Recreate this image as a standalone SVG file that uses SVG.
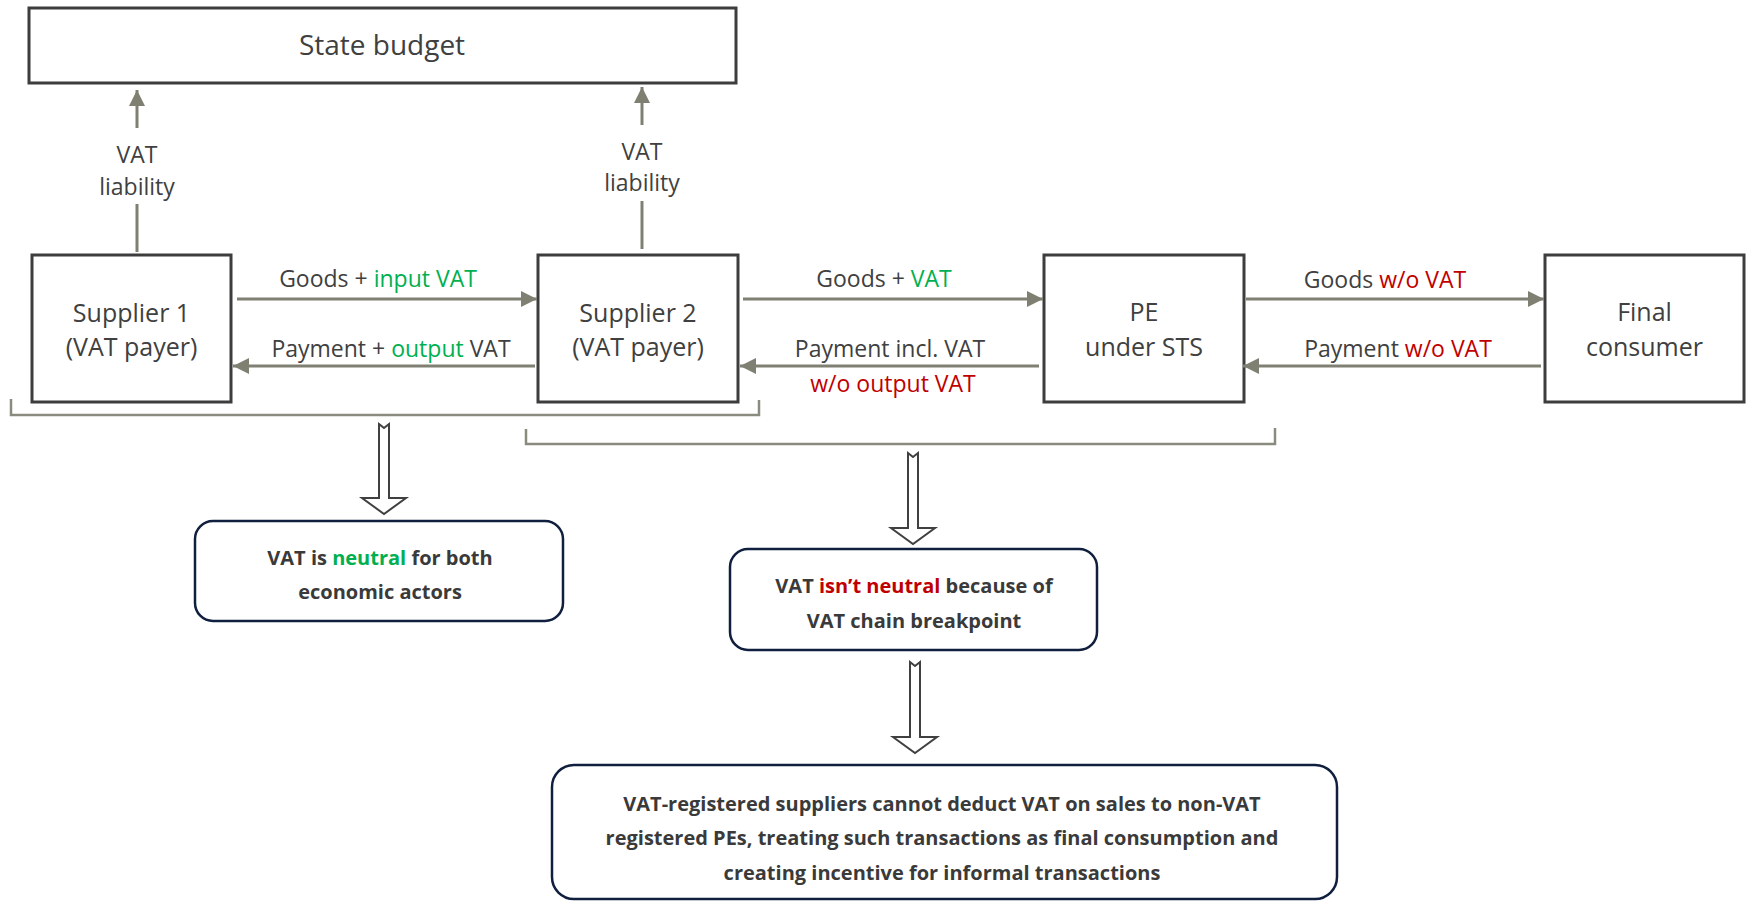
<svg xmlns="http://www.w3.org/2000/svg" width="1746" height="901" viewBox="0 0 1746 901">
<defs>
<style>
.box{fill:#fff;stroke:#3d3d3d;stroke-width:3}
.call{fill:#fff;stroke:#0f1f3d;stroke-width:2.5}
.lbl{font-family:"Open Sans","Noto Sans",sans-serif;fill:#404040;text-anchor:middle}
.node{font-size:25px}
.edge{font-size:23px}
.bold{font-family:"Open Sans","Noto Sans",sans-serif;font-weight:bold;font-size:20px;fill:#3a3a3a;text-anchor:middle}
.g{fill:#00b050}
.r{fill:#c00000}
.con{stroke:#7f8072;stroke-width:3;fill:none}
.brk{stroke:#8a8a7e;stroke-width:2.5;fill:none}
.hol{fill:#fff;stroke:#404040;stroke-width:2;stroke-linejoin:miter}
</style>
<marker id="ah" markerUnits="userSpaceOnUse" markerWidth="17" markerHeight="17" refX="16" refY="8" orient="auto">
<path d="M0,0 L16,8 L0,16 z" fill="#7f8072"/>
</marker>
</defs>
<rect width="1746" height="901" fill="#fff"/>

<g id="state-budget">
<rect class="box" x="29" y="8" width="707" height="75"/>
<text class="lbl" x="382" y="55" font-size="28">State budget</text>
</g>

<g id="supplier1">
<rect class="box" x="32" y="255" width="199" height="147"/>
<text class="lbl node" x="131.5" y="322">Supplier 1</text>
<text class="lbl node" x="131.5" y="356">(VAT payer)</text>
</g>

<g id="supplier2">
<rect class="box" x="538" y="255" width="200" height="147"/>
<text class="lbl node" x="638" y="322">Supplier 2</text>
<text class="lbl node" x="638" y="356">(VAT payer)</text>
</g>

<g id="pe">
<rect class="box" x="1044" y="255" width="200" height="147"/>
<text class="lbl node" x="1144" y="321">PE</text>
<text class="lbl node" x="1144" y="356">under STS</text>
</g>

<g id="final-consumer">
<rect class="box" x="1545" y="255" width="199" height="147"/>
<text class="lbl node" x="1644.5" y="321">Final</text>
<text class="lbl node" x="1644.5" y="356">consumer</text>
</g>

<g id="connectors">
<path class="con" d="M137,128 L137,90" marker-end="url(#ah)"/>
<path class="con" d="M137,204 L137,252"/>
<path class="con" d="M642,125 L642,87" marker-end="url(#ah)"/>
<path class="con" d="M642,201 L642,249"/>
<path class="con" d="M237,299 L537,299" marker-end="url(#ah)"/>
<path class="con" d="M535,366 L233,366" marker-end="url(#ah)"/>
<path class="con" d="M743,299 L1043,299" marker-end="url(#ah)"/>
<path class="con" d="M1039,366 L740,366" marker-end="url(#ah)"/>
<path class="con" d="M1246,299 L1544,299" marker-end="url(#ah)"/>
<path class="con" d="M1541,366 L1243,366" marker-end="url(#ah)"/>
<path class="brk" d="M11,399 L11,415 L759,415 L759,400"/>
<path class="brk" d="M526,429 L526,444 L1275,444 L1275,428"/>
<polygon class="hol" points="379,424 384,428 389,424 389,498 406,498 384,514 362,498 379,498"/>
<polygon class="hol" points="908,453 913,457 918,453 918,528 935,528 913,544 891,528 908,528"/>
<polygon class="hol" points="910,662 915,666 920,662 920,737 937,737 915,753 893,737 910,737"/>
</g>

<g id="edge-labels">
<text class="lbl" x="137" y="163" font-size="23">VAT</text>
<text class="lbl" x="137" y="195" font-size="23">liability</text>
<text class="lbl" x="642" y="160" font-size="23">VAT</text>
<text class="lbl" x="642" y="191" font-size="23">liability</text>
<text class="lbl edge" x="378" y="287">Goods + <tspan class="g">input VAT</tspan></text>
<text class="lbl edge" x="391" y="357">Payment + <tspan class="g">output</tspan> VAT</text>
<text class="lbl edge" x="884" y="287">Goods + <tspan class="g">VAT</tspan></text>
<text class="lbl edge" x="890" y="357">Payment incl. VAT</text>
<text class="lbl edge r" x="893" y="392">w/o output VAT</text>
<text class="lbl edge" x="1385" y="288">Goods <tspan class="r">w/o VAT</tspan></text>
<text class="lbl edge" x="1398" y="357">Payment <tspan class="r">w/o VAT</tspan></text>
</g>

<g id="callout-neutral">
<rect class="call" x="195" y="521" width="368" height="100" rx="18"/>
<text class="bold" x="380" y="565">VAT is <tspan class="g">neutral</tspan> for both</text>
<text class="bold" x="380" y="599">economic actors</text>
</g>

<g id="callout-not-neutral">
<rect class="call" x="730" y="549" width="367" height="101" rx="18"/>
<text class="bold" x="914" y="593">VAT <tspan class="r">isn’t neutral</tspan> because of</text>
<text class="bold" x="914" y="628">VAT chain breakpoint</text>
</g>

<g id="callout-conclusion">
<rect class="call" x="552" y="765" width="785" height="134" rx="22"/>
<text class="bold" x="942" y="811">VAT-registered suppliers cannot deduct VAT on sales to non-VAT</text>
<text class="bold" x="942" y="845">registered PEs, treating such transactions as final consumption and</text>
<text class="bold" x="942" y="880">creating incentive for informal transactions</text>
</g>
</svg>
